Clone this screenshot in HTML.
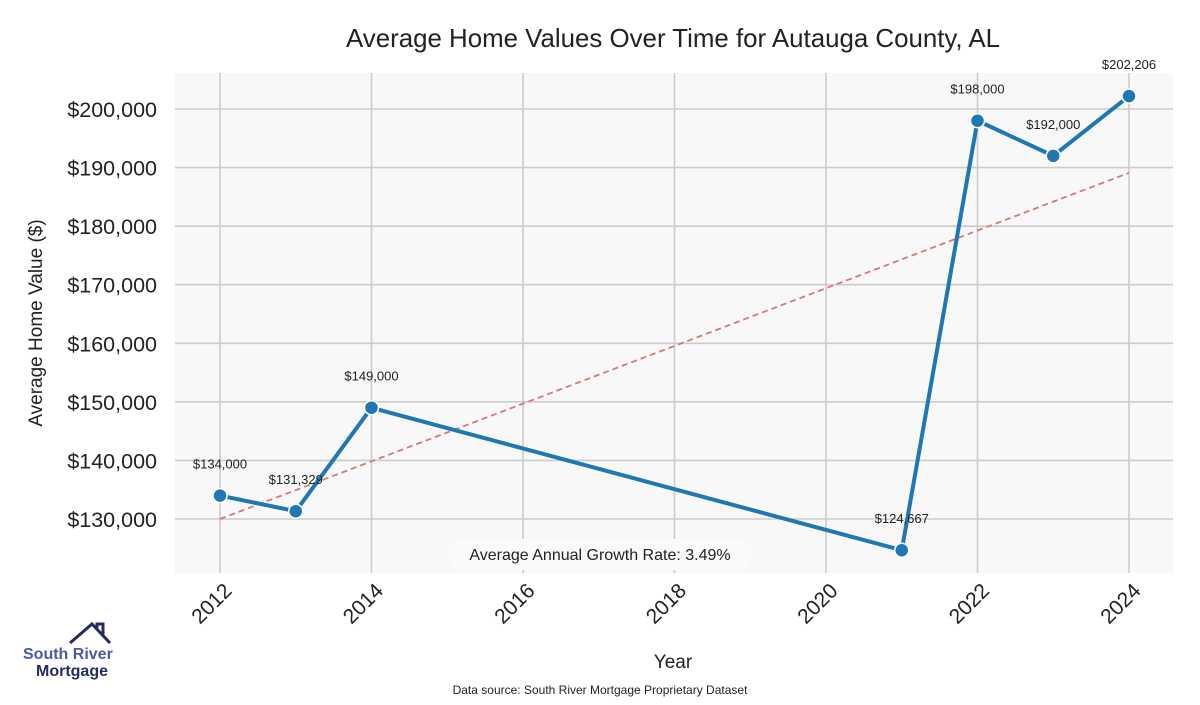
<!DOCTYPE html>
<html><head><meta charset="utf-8"><style>
body{margin:0;background:#fff;}
svg text{font-family:"Liberation Sans",sans-serif;}
</style></head><body>
<svg id="chart" width="1200" height="700" xmlns="http://www.w3.org/2000/svg">
<text x="673" y="47" font-size="26" text-anchor="middle" fill="#222" textLength="654" lengthAdjust="spacingAndGlyphs">Average Home Values Over Time for Autauga County, AL</text>
<rect x="175" y="73" width="998" height="500" fill="#f8f8f8"/>
<g id="grid"></g>
<g id="axes"></g>
<g id="marks"></g>
<text x="673" y="668" font-size="19" text-anchor="middle" fill="#222">Year</text>
<text transform="translate(42,323) rotate(-90)" font-size="19" text-anchor="middle" fill="#222">Average Home Value ($)</text>
<text x="600" y="694" font-size="12" text-anchor="middle" fill="#222">Data source: South River Mortgage Proprietary Dataset</text>
<g>
<polyline points="70,643 92,624 110,643" fill="none" stroke="#262b5e" stroke-width="3"/>
<polyline points="97,628 97,624 103,624 103,636" fill="none" stroke="#262b5e" stroke-width="3"/>
<text x="23" y="659" font-size="16" font-weight="bold" fill="#4a5aa8">South River</text>
<text x="36" y="676" font-size="16" font-weight="bold" fill="#262b5e">Mortgage</text>
</g>
</svg>
<script>
const years=[2012,2013,2014,2021,2022,2023,2024];
const values=[134000,131329,149000,124667,198000,192000,202206];
const valueLabels=["$134,000","$131,329","$149,000","$124,667","$198,000","$192,000","$202,206"];
const yTicks=[130000,140000,150000,160000,170000,180000,190000,200000];
const xTicks=[2012,2014,2016,2018,2020,2022,2024];
const trendStart=[2012,130000];
const trendEnd=[2024,189100];
const growthText="Average Annual Growth Rate: 3.49%";
const NS="http://www.w3.org/2000/svg";
const xs=y=>220+(y-2012)*(1129-220)/12;
const ys=v=>109+(200000-v)*(519-109)/70000;
function mk(tag,attrs,parent,txt){const e=document.createElementNS(NS,tag);for(const k in attrs)e.setAttribute(k,attrs[k]);if(txt!==undefined)e.textContent=txt;document.getElementById(parent).appendChild(e);return e;}
yTicks.forEach(v=>{
 const l=mk('line',{x1:175,x2:1173,y1:ys(v),y2:ys(v),stroke:'#cccccc','stroke-width':1.6},'grid');
 
 
 const t=mk('text',{x:157,y:ys(v)+8,'font-size':21.5,'text-anchor':'end',fill:'#222'},'axes','$'+v.toLocaleString('en-US'));
 
 
});
xTicks.forEach(y=>{
 const l=mk('line',{x1:xs(y),x2:xs(y),y1:73,y2:573,stroke:'#cccccc','stroke-width':1.6},'grid');
 
 
 const t=mk('text',{transform:`translate(${xs(y)+13},${592}) rotate(-45)`,'font-size':21,'text-anchor':'end',fill:'#222'},'axes',String(y));
 
 
});
const tr=mk('line',{x1:xs(trendStart[0]),y1:ys(trendStart[1]),x2:xs(trendEnd[0]),y2:ys(trendEnd[1]),stroke:'#d9777a','stroke-width':1.8,'stroke-dasharray':'6,4'},'marks');


const pl=mk('polyline',{points:years.map((y,i)=>xs(y)+','+ys(values[i])).join(' '),fill:'none',stroke:'#1f77b4','stroke-width':4},'marks');


years.forEach((y,i)=>{
 const c=mk('circle',{cx:xs(y),cy:ys(values[i]),r:7,fill:'#1f77b4',stroke:'#fff','stroke-width':1.5},'marks');
 
 
 const t=mk('text',{x:xs(y),y:ys(values[i])-27,'font-size':13,'text-anchor':'middle',fill:'#222'},'marks',valueLabels[i]);
 
 
});
const bx=mk('rect',{x:450,y:539,width:300,height:31,rx:8,fill:'#fafafa',opacity:0.95},'marks');


const gt=mk('text',{x:600,y:560,'font-size':16,'text-anchor':'middle',fill:'#222'},'marks',growthText);


</script>
</body></html>
